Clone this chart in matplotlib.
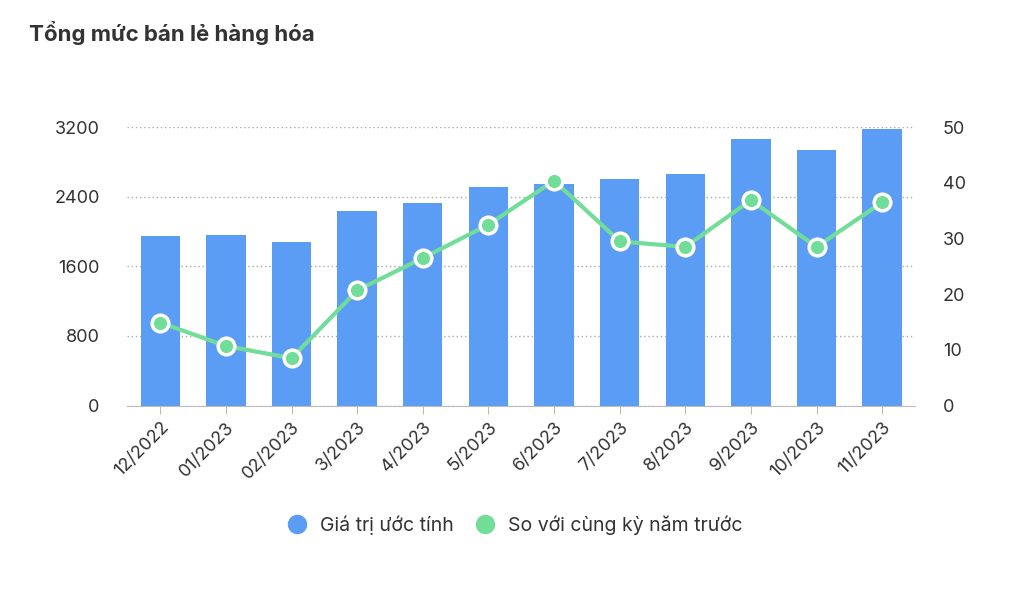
import numpy as np
import matplotlib.pyplot as plt

plt.rcParams["font.family"] = "Inter"

months = ["12/2022", "01/2023", "02/2023", "3/2023", "4/2023", "5/2023",
          "6/2023", "7/2023", "8/2023", "9/2023", "10/2023", "11/2023"]
values = [1945, 1965, 1885, 2235, 2330, 2515, 2550, 2605, 2665, 3070, 2935, 3175]
yoy = [14.9, 10.7, 8.5, 20.7, 26.5, 32.5, 40.4, 29.5, 28.5, 36.9, 28.5, 36.5]

fig = plt.figure(figsize=(10.2, 5.92), dpi=100)
ax = fig.add_axes([0.125, 0.315, 0.772, 0.47])
ax2 = ax.twinx()

x = np.arange(len(months))
ax.bar(x, values, width=0.6, color="#5b9cf4", zorder=2, label="Giá trị ước tính")
ax2.plot(x, yoy, color="#72dd98", lw=3, marker="o", ms=12,
         markerfacecolor="#72dd98", markeredgecolor="white", markeredgewidth=2.5,
         zorder=3, label="So với cùng kỳ năm trước")

ax.set_xlim(-0.5, len(months) - 0.5)
ax.set_ylim(0, 3200)
ax2.set_ylim(0, 50)
ax.set_yticks([0, 800, 1600, 2400, 3200])
ax2.set_yticks([0, 10, 20, 30, 40, 50])
ax.grid(axis="y", color="#aaaaaa", linestyle=(0, (1, 2)), lw=1, zorder=0)
ax.set_axisbelow(True)

for a in (ax, ax2):
    for s in a.spines.values():
        s.set_visible(False)
    a.tick_params(axis="y", length=0, labelsize=13, colors="#333333", pad=20)
ax.spines["bottom"].set_visible(True)
ax.spines["bottom"].set_color("#bbbbbb")
ax.set_xticks(x)
ax.set_xticklabels(months, rotation=45, ha="right", rotation_mode="anchor",
                   fontsize=13, color="#333333")
ax.tick_params(axis="x", length=6, color="#bbbbbb")
ax2.set_zorder(ax.get_zorder() + 1)
ax2.patch.set_visible(False)

fig.text(0.028, 0.93, "Tổng mức bán lẻ hàng hóa", fontsize=16, fontweight="bold",
         color="#333333")

h1, l1 = ax.get_legend_handles_labels()
h2, l2 = ax2.get_legend_handles_labels()
from matplotlib.lines import Line2D
hb = Line2D([], [], marker="o", ls="", ms=13, color="#5b9cf4")
hl = Line2D([], [], marker="o", ls="", ms=13, color="#72dd98")
fig.legend([hb, hl], [l1[0], l2[0]], loc="center", bbox_to_anchor=(0.5, 0.113),
           ncol=2, frameon=False, fontsize=14, handletextpad=0.2, columnspacing=0.6,
           labelcolor="#333333")

fig.savefig("out.png", dpi=100)
